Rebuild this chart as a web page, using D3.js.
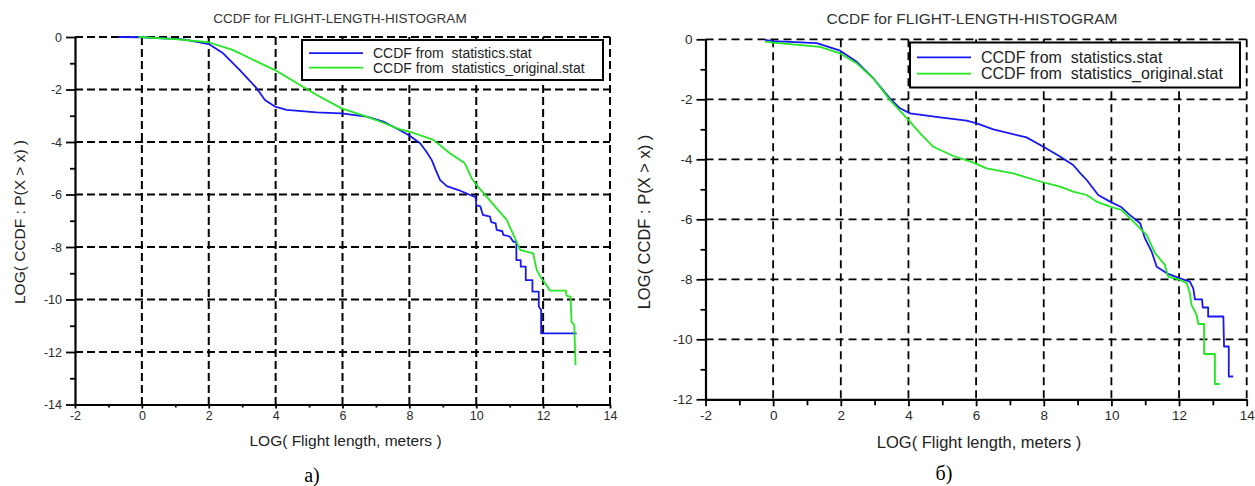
<!DOCTYPE html>
<html>
<head>
<meta charset="utf-8">
<script src="https://cdnjs.cloudflare.com/ajax/libs/d3/7.8.5/d3.min.js"></script>
<style>
  body { margin: 0; background: #fff; }
  svg { display: block; }
  text { font-family: "Liberation Sans", Arial, sans-serif; }
</style>
</head>
<body>
<div id="chart"></div>
<script>
// 1- Data ---------------------------------------------------------------------------------
const chartTitle = "CCDF for FLIGHT-LENGTH-HISTOGRAM";
const xLabelText = "LOG( Flight length, meters )";
const yLabelText = "LOG( CCDF : P(X > x) )";
const legendNames = ["CCDF from  statistics.stat", "CCDF from  statistics_original.stat"];
const panelCaptions = ["а)", "б)"];

const xTicks = [-2, 0, 2, 4, 6, 8, 10, 12, 14];
const yTicksA = [0, -2, -4, -6, -8, -10, -12, -14];
const yTicksB = [0, -2, -4, -6, -8, -10, -12];

// panel а) : [log length, log ccdf]
const blueA = [[-0.7,0],[0,-0.01],[1.24,-0.09],[2,-0.27],[2.43,-0.62],[2.93,-1.26],[3.43,-1.95],
  [3.68,-2.4],[3.98,-2.65],[4.33,-2.78],[5.23,-2.87],[5.97,-2.91],[6.72,-3.03],[7.22,-3.22],
  [7.72,-3.55],[8.0,-3.75],[8.32,-4.05],[8.5,-4.35],[8.67,-4.69],[8.8,-5.1],[8.92,-5.45],
  [9.12,-5.68],[9.47,-5.83],[9.82,-6.02],[9.98,-6.1],[10.0,-6.4],[10.12,-6.45],[10.2,-6.78],
  [10.41,-6.84],[10.45,-7.05],[10.58,-7.1],[10.61,-7.35],[10.78,-7.4],[10.81,-7.54],[11.0,-7.6],
  [11.11,-7.8],[11.2,-7.8],[11.2,-8.5],[11.33,-8.5],[11.33,-8.75],[11.48,-8.75],[11.48,-9.26],
  [11.68,-9.26],[11.68,-9.7],[11.87,-9.7],[11.87,-10.27],[11.94,-10.4],[11.94,-11.29],[13.0,-11.29]];
const greenA = [[-0.1,0],[1.0,-0.08],[2,-0.2],[2.73,-0.5],[3.23,-0.81],[3.98,-1.26],[4.73,-1.83],
  [5.23,-2.21],[5.97,-2.72],[6.72,-3.03],[7.12,-3.22],[7.72,-3.52],[8.02,-3.61],[8.72,-3.92],
  [9.21,-4.43],[9.66,-4.81],[9.86,-5.38],[10.01,-5.64],[10.31,-6.08],[10.61,-6.53],[10.91,-6.97],
  [11.16,-7.67],[11.31,-8.11],[11.7,-8.24],[11.81,-8.88],[11.95,-9.2],[12.1,-9.45],[12.2,-9.66],
  [12.68,-9.66],[12.7,-9.85],[12.82,-9.9],[12.85,-10.85],[12.93,-10.97],[12.97,-12.5]];

// panel б)
const blueB = [[-0.24,-0.02],[0,-0.06],[1.29,-0.13],[1.98,-0.38],[2.47,-0.75],[2.96,-1.3],[3.45,-1.97],
  [3.75,-2.3],[4.05,-2.47],[4.93,-2.6],[5.72,-2.71],[6.02,-2.8],[6.51,-3.0],[7.3,-3.22],[7.49,-3.27],
  [7.99,-3.58],[8.48,-3.91],[8.87,-4.19],[9.07,-4.45],[9.27,-4.69],[9.61,-5.19],[9.96,-5.41],
  [10.3,-5.6],[10.55,-5.86],[10.85,-6.13],[10.99,-6.63],[11.19,-7.08],[11.34,-7.58],[11.64,-7.8],
  [12.03,-7.97],[12.32,-8.08],[12.42,-8.3],[12.47,-8.67],[12.68,-8.67],[12.7,-8.94],[12.86,-8.94],
  [12.86,-9.24],[13.31,-9.24],[13.33,-10.24],[13.47,-10.24],[13.47,-11.24],[13.6,-11.24]];
const greenB = [[-0.24,-0.08],[0,-0.11],[1.38,-0.25],[1.98,-0.47],[2.47,-0.8],[2.96,-1.3],[3.45,-2.02],
  [3.95,-2.63],[4.34,-3.13],[4.73,-3.58],[5.33,-3.89],[5.92,-4.11],[6.31,-4.3],[7.1,-4.47],[7.89,-4.74],
  [8.48,-4.91],[8.87,-5.08],[9.27,-5.19],[9.56,-5.41],[9.96,-5.58],[10.3,-5.69],[10.65,-6.08],
  [11.04,-6.52],[11.29,-7.13],[11.58,-7.52],[11.68,-7.91],[12.03,-8.02],[12.23,-8.13],[12.32,-8.47],
  [12.37,-8.86],[12.52,-9.19],[12.57,-9.49],[12.74,-9.49],[12.74,-10.49],[13.06,-10.49],
  [13.06,-11.49],[13.2,-11.49]];

const lineColors = ["#1818f2", "#22e822"];

// 2- SVG wrapper ---------------------------------------------------------------------------
const svgWidth = 1255;
const svgHeight = 486;

const svg = d3.select("#chart")
  .append("svg")
  .attr("width", svgWidth)
  .attr("height", svgHeight);

// 3- one panel -----------------------------------------------------------------------------
function drawPanel(p) {
  const x = d3.scaleLinear().domain([-2, 14]).range([p.left, p.right]);
  const y = d3.scaleLinear().domain([p.yMin, 0]).range([p.bottom, p.top]);
  const g = svg.append("g");

  const minorX = d3.range(-1, 14, 2);
  const minorY = d3.range(-1, p.yMin, -2);
  const plainNum = d => String(d);   // hyphen minus like the original, not U+2212

  // dashed grid
  g.append("g")
    .selectAll("line.vgrid")
    .data(xTicks.filter(d => d > -2))
    .enter().append("line")
    .attr("x1", d => x(d)).attr("x2", d => x(d))
    .attr("y1", p.top).attr("y2", p.bottom)
    .attr("stroke", "#000").attr("stroke-width", p.gridWidth)
    .attr("stroke-dasharray", p.dash);
  g.append("g")
    .selectAll("line.hgrid")
    .data(p.yTicks.filter(d => d > p.yMin))
    .enter().append("line")
    .attr("x1", p.left).attr("x2", p.right)
    .attr("y1", d => y(d)).attr("y2", d => y(d))
    .attr("stroke", "#000").attr("stroke-width", p.gridWidth)
    .attr("stroke-dasharray", p.dash);

  // curves
  const line = d3.line().x(d => x(d[0])).y(d => y(d[1]));
  [p.blue, p.green].forEach((s, i) => {
    g.append("path")
      .datum(s)
      .attr("fill", "none")
      .attr("stroke", lineColors[i])
      .attr("stroke-width", 1.8)
      .attr("stroke-linejoin", "round")
      .attr("d", line);
  });

  // axes
  g.append("g")
    .attr("transform", `translate(0,${p.bottom})`)
    .call(d3.axisBottom(x).tickValues(xTicks).tickFormat(plainNum)
      .tickSize(p.xTick).tickSizeOuter(0).tickPadding(p.xPad));
  g.append("g")
    .attr("transform", `translate(0,${p.bottom})`)
    .call(d3.axisBottom(x).tickValues(minorX).tickSize(p.xTick - 1).tickFormat("").tickSizeOuter(0))
    .select(".domain").remove();
  g.append("g")
    .attr("transform", `translate(${p.left},0)`)
    .call(d3.axisLeft(y).tickValues(p.yTicks).tickFormat(plainNum)
      .tickSize(p.yTick).tickSizeOuter(0).tickPadding(4));
  g.append("g")
    .attr("transform", `translate(${p.left},0)`)
    .call(d3.axisLeft(y).tickValues(minorY).tickSize(5).tickFormat("").tickSizeOuter(0))
    .select(".domain").remove();

  g.selectAll(".domain").attr("stroke", "#000").attr("stroke-width", 2.2);
  g.selectAll(".tick line").attr("stroke", "#000").attr("stroke-width", 1.8);
  g.selectAll(".tick text")
    .attr("fill", "#2a2a2a")
    .style("font-family", '"Liberation Sans", Arial, sans-serif')
    .style("font-size", p.tickFont + "px");

  // title and axis labels
  g.append("text")
    .attr("x", p.titleX).attr("y", p.titleY)
    .attr("text-anchor", "middle")
    .attr("font-size", p.titleFont)
    .attr("fill", "#333")
    .text(chartTitle);
  g.append("text")
    .attr("x", (p.left + p.right) / 2 + 3).attr("y", p.xLabelY)
    .attr("text-anchor", "middle")
    .attr("font-size", p.labelFont)
    .attr("fill", "#222")
    .text(xLabelText);
  g.append("text")
    .attr("transform", `translate(${p.yLabelX},${p.yLabelY}) rotate(-90)`)
    .attr("text-anchor", "middle")
    .attr("font-size", p.labelFont)
    .attr("fill", "#222")
    .text(yLabelText);

  // legend
  const lg = g.append("g");
  lg.append("rect")
    .attr("x", p.lgX).attr("y", p.lgY)
    .attr("width", p.lgW).attr("height", p.lgH)
    .attr("fill", "#fff").attr("stroke", "#000").attr("stroke-width", 2);
  legendNames.forEach((name, i) => {
    const ly = p.lgY + p.lgH * (0.33 + 0.36 * i);
    lg.append("line")
      .attr("x1", p.lgX + 7).attr("x2", p.lgX + 7 + p.lgLine)
      .attr("y1", ly).attr("y2", ly)
      .attr("stroke", lineColors[i]).attr("stroke-width", 1.8);
    lg.append("text")
      .attr("x", p.lgX + 17 + p.lgLine).attr("y", ly + p.lgFont * 0.36)
      .attr("font-size", p.lgFont)
      .attr("fill", "#222")
      .style("white-space", "pre")
      .text(name);
  });

  // caption under the panel
  g.append("text")
    .attr("x", p.capX).attr("y", p.capY)
    .attr("text-anchor", "middle")
    .style("font-family", '"Liberation Serif", "Times New Roman", serif')
    .attr("font-size", 20)
    .attr("fill", "#000")
    .text(p.caption);
}

// 4- the two panels ------------------------------------------------------------------------
drawPanel({
  left: 75, right: 610, top: 37, bottom: 404.5, yMin: -14, yTicks: yTicksA,
  blue: blueA, green: greenA, dash: "8,4", gridWidth: 2,
  xTick: 4, xPad: 3, yTick: 9, tickFont: 12.5,
  titleX: 340, titleY: 23, titleFont: 13.5,
  labelFont: 15.5, xLabelY: 446, yLabelX: 25, yLabelY: 222,
  lgX: 302, lgY: 40, lgW: 301, lgH: 40, lgLine: 54, lgFont: 14,
  capX: 312, capY: 482, caption: panelCaptions[0]
});

drawPanel({
  left: 705.5, right: 1246.7, top: 39.3, bottom: 399.3, yMin: -12, yTicks: yTicksB,
  blue: blueB, green: greenB, dash: "8,5", gridWidth: 1.8,
  xTick: 7, xPad: 4, yTick: 9, tickFont: 13.5,
  titleX: 972, titleY: 24, titleFont: 15.5,
  labelFont: 16.5, xLabelY: 448, yLabelX: 650, yLabelY: 222,
  lgX: 910, lgY: 42.5, lgW: 330, lgH: 45, lgLine: 54, lgFont: 16,
  capX: 944, capY: 480, caption: panelCaptions[1]
});
</script>
</body>
</html>
